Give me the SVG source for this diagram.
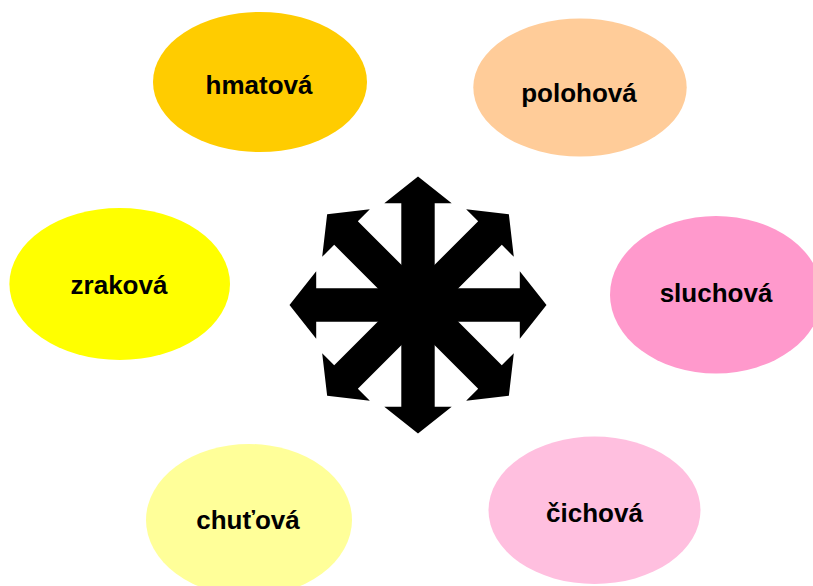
<svg xmlns="http://www.w3.org/2000/svg" width="813" height="586" viewBox="0 0 813 586">
<style>
text{font-family:"Liberation Sans",Arial,sans-serif;font-weight:bold;font-size:26px;fill:#000;text-anchor:middle}
</style>
<defs>
<path id="arr" d="M-16.7,0 L-16.7,-101.8 L-33.7,-101.8 L0,-128.5 L33.7,-101.8 L16.7,-101.8 L16.7,0 Z" fill="#000"/>
</defs>
<rect width="813" height="586" fill="#fff"/>
<g id="hmatova"><ellipse cx="260" cy="82" rx="107" ry="70" fill="#FFCC00"/><text x="259" y="94">hmatová</text></g>
<g id="polohova"><ellipse cx="580" cy="87.5" rx="106.7" ry="69" fill="#FFCC99"/><text x="579" y="101.5">polohová</text></g>
<g id="zrakova"><ellipse cx="119.7" cy="284" rx="110.3" ry="76" fill="#FFFF00"/><text x="119" y="293.5">zraková</text></g>
<g id="sluchova"><ellipse cx="716" cy="294.7" rx="106" ry="78.7" fill="#FF99CC"/><text x="716" y="301.7">sluchová</text></g>
<g id="chutova"><ellipse cx="249" cy="520" rx="103" ry="76" fill="#FFFF99"/><text x="248" y="529.3">chuťová</text></g>
<g id="cichova"><ellipse cx="594.5" cy="510.3" rx="106" ry="73.7" fill="#FFBFDF"/><text x="594.5" y="521.7">čichová</text></g>
<g id="star" transform="translate(418,305)">
<use href="#arr"/>
<use href="#arr" transform="rotate(45)"/>
<use href="#arr" transform="rotate(90)"/>
<use href="#arr" transform="rotate(135)"/>
<use href="#arr" transform="rotate(180)"/>
<use href="#arr" transform="rotate(225)"/>
<use href="#arr" transform="rotate(270)"/>
<use href="#arr" transform="rotate(315)"/>
</g>
</svg>
